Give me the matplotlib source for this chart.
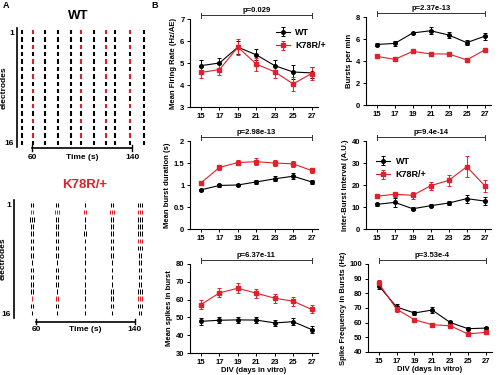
import matplotlib
matplotlib.use("Agg")
import matplotlib.pyplot as plt
import matplotlib.transforms as mtransforms

plt.rcParams["font.family"] = ["Liberation Sans Narrow", "Liberation Sans", "DejaVu Sans"]
plt.rcParams["font.weight"] = "bold"
plt.rcParams["axes.labelweight"] = "bold"

RED = "#e3202a"
W, H = 500, 375

# ---- panel A: raster data (burst times in s, per-electrode spike counts) ----
WT_BURSTS = [51.5, 60.8, 70.2, 80.8, 90.7, 99.0, 109.6, 119.0, 126.0, 138.0, 149.0]
WT_REDDISH = [False, True, False, False, False, True, False, True, False, True, False]

K_BURSTS = [56.5, 76.7, 99.6, 121.6, 144.0]
K_SPIKES = ["2232222212222121",
            "2322222212221221",
            "1211211111111111",
            "2322222211112221",
            "3333333222223332"]
K_RED_ROWS = [[2, 14], [2, 14], [2], [2], [2, 6, 14]]

# ---- panel B: DIV series (mean, sem) ----
DIV = [15, 17, 19, 21, 23, 25, 27]

mfr_wt = [4.88, 5.00, 5.72, 5.37, 4.88, 4.59, 4.55]
mfr_wt_err = [0.25, 0.25, 0.30, 0.25, 0.25, 0.30, 0.25]
mfr_ko = [4.57, 4.70, 5.72, 4.95, 4.60, 4.05, 4.52]
mfr_ko_err = [0.25, 0.25, 0.35, 0.30, 0.30, 0.30, 0.30]

bpm_wt = [5.50, 5.60, 6.55, 6.75, 6.36, 5.67, 6.25]
bpm_wt_err = [0.15, 0.20, 0.12, 0.30, 0.25, 0.25, 0.30]
bpm_ko = [4.42, 4.15, 4.88, 4.64, 4.64, 4.10, 5.00]
bpm_ko_err = [0.10, 0.15, 0.15, 0.20, 0.20, 0.20, 0.20]

dur_wt = [0.89, 0.99, 1.00, 1.07, 1.14, 1.20, 1.07]
dur_wt_err = [0.02, 0.04, 0.03, 0.04, 0.06, 0.07, 0.05]
dur_ko = [1.05, 1.40, 1.51, 1.53, 1.50, 1.48, 1.33]
dur_ko_err = [0.05, 0.06, 0.06, 0.08, 0.07, 0.07, 0.05]

ibi_wt = [11.2, 12.1, 9.2, 10.6, 11.8, 13.8, 12.7]
ibi_wt_err = [0.8, 2.0, 0.6, 0.8, 1.0, 1.8, 2.0]
ibi_ko = [14.9, 15.8, 15.3, 19.7, 22.1, 28.3, 19.7]
ibi_ko_err = [1.0, 1.2, 1.5, 1.8, 2.5, 4.8, 2.8]

spb_wt = [47.8, 48.4, 48.6, 48.5, 46.9, 47.6, 43.2]
spb_wt_err = [1.8, 1.8, 1.8, 1.8, 1.8, 2.0, 2.0]
spb_ko = [57.2, 63.8, 66.4, 63.6, 60.8, 59.1, 54.5]
spb_ko_err = [2.5, 2.5, 2.8, 2.5, 2.5, 2.5, 2.3]

sfb_wt = [85.2, 70.7, 66.6, 68.6, 60.2, 55.9, 56.3]
sfb_wt_err = [2.5, 2.0, 1.5, 2.0, 1.0, 1.0, 1.0]
sfb_ko = [86.9, 69.3, 62.0, 58.6, 57.9, 52.3, 53.4]
sfb_ko_err = [2.5, 2.0, 1.5, 1.5, 1.5, 1.2, 1.2]

fig = plt.figure(figsize=(W / 100, H / 100), dpi=100)


def px_axes(x0, y0, x1, y1):
    return fig.add_axes([x0 / W, 1 - y1 / H, (x1 - x0) / W, (y1 - y0) / H])


def fig_text(x, y, s, **kw):
    fig.text(x / W, 1 - y / H, s, **kw)


def raster_frame(ax, xlim, ylim, bar_y, lab_y, ylab_x):
    ax.set_xlim(*xlim)
    ax.set_ylim(*ylim)
    for s in ["top", "right", "bottom"]:
        ax.spines[s].set_visible(False)
    ax.spines["left"].set_linewidth(1.2)
    ax.set_xticks([])
    ax.set_yticks([1, 16])
    ax.tick_params(axis="y", length=0, labelsize=6, pad=2)
    ax.set_ylabel("electrodes", fontsize=6)
    ax.yaxis.set_label_coords(ylab_x, 0.5)
    tr = mtransforms.blended_transform_factory(ax.transData, ax.transAxes)
    ax.plot([60, 140], [bar_y, bar_y], color="black", lw=1.2, transform=tr, clip_on=False)
    for t in (60, 140):
        ax.plot([t, t], [bar_y - 0.025, bar_y + 0.025], color="black", lw=1.0,
                transform=tr, clip_on=False)
        ax.text(t, lab_y, str(t), transform=tr, ha="center", va="center", fontsize=6)
    ax.text(100, lab_y, "Time (s)", transform=tr, ha="center", va="center", fontsize=6)


# WT raster
axA1 = px_axes(17, 28, 152, 147)
for t, reddish in zip(WT_BURSTS, WT_REDDISH):
    for e in range(1, 17):
        c = RED if (reddish and e % 2 == 1) else "black"
        axA1.vlines(t, e - 0.3, e + 0.3, color=c, lw=1.5)
raster_frame(axA1, (47.8, 155.8), (16.55, 0.45), -0.01, -0.09, -0.07)

# K78R/+ raster
axA2 = px_axes(14, 200, 150, 318)
for t, counts, reds in zip(K_BURSTS, K_SPIKES, K_RED_ROWS):
    for e in range(1, 17):
        n = int(counts[e - 1])
        c = RED if e in reds else "black"
        for k in range(n):
            axA2.vlines(t + (k - (n - 1) / 2) * 1.7, e - 0.32, e + 0.32, color=c, lw=0.75)
raster_frame(axA2, (42.2, 152.1), (16.69, 0.31), -0.03, -0.095, -0.055)

fig_text(78, 16, "WT", fontsize=9.5, ha="center", va="center")
fig_text(85, 185, "K78R/+", fontsize=9.5, ha="center", va="center", color=RED)
fig_text(3, 6, "A", fontsize=6.5, va="center")
fig_text(151, 6, "B", fontsize=6.5, va="center")


def panel(rect, wt, wt_err, ko, ko_err, ylim, yticks, ylabel, ptext,
          xlabel=False, legend=None):
    ax = px_axes(*rect)
    ax.errorbar(DIV, wt, yerr=wt_err, color="black", marker="o", ms=2.6, lw=0.8,
                elinewidth=0.7, capsize=1.5, capthick=0.7, label="WT", zorder=3)
    ax.errorbar(DIV, ko, yerr=ko_err, color=RED, marker="s", ms=3.0, lw=0.8,
                elinewidth=0.7, capsize=1.5, capthick=0.7, label="K78R/+", zorder=3)
    ax.set_xlim(13.8, 27.7)
    ax.set_ylim(*ylim)
    ax.set_xticks(DIV)
    ax.set_yticks(yticks)
    ax.set_yticklabels([f"{v:g}" for v in yticks])
    for s in ["top", "right"]:
        ax.spines[s].set_visible(False)
    for s in ["left", "bottom"]:
        ax.spines[s].set_linewidth(0.8)
    ax.tick_params(direction="out", length=2.5, width=0.7, labelsize=5.5, pad=1.5)
    ax.set_ylabel(ylabel, fontsize=5.5, labelpad=2)
    if xlabel:
        ax.set_xlabel("DIV (days in vitro)", fontsize=5.5, labelpad=1)
    tr = mtransforms.blended_transform_factory(ax.transData, ax.transAxes)
    ax.plot([15, 27], [1.04, 1.04], color="#333333", lw=0.7, transform=tr, clip_on=False)
    for x in (15, 27):
        ax.plot([x, x], [1.015, 1.065], color="#333333", lw=0.7, transform=tr, clip_on=False)
    ax.text(21, 1.095, ptext, transform=tr, ha="center", va="center", fontsize=5.5)
    if legend is not None:
        ax.legend(loc="upper left", bbox_to_anchor=legend, frameon=False, fontsize=6.5,
                  handlelength=1.6, handletextpad=0.6, borderaxespad=0, labelspacing=0.5)
    return ax


panel((190, 19, 318, 107), mfr_wt, mfr_wt_err, mfr_ko, mfr_ko_err, (3, 7),
      [3, 4, 5, 6, 7], "Mean Firing Rate (Hz/AE)", "p=0.029", legend=(0.64, 0.94))
panel((366, 17, 491, 105), bpm_wt, bpm_wt_err, bpm_ko, bpm_ko_err, (0, 8),
      [0, 2, 4, 6, 8], "Bursts per min", "p=2.37e-13")
panel((190, 141, 318, 229), dur_wt, dur_wt_err, dur_ko, dur_ko_err, (0, 2),
      [0, 0.5, 1, 1.5, 2], "Mean burst duration (s)", "p=2.98e-13")
panel((366, 141, 491, 229), ibi_wt, ibi_wt_err, ibi_ko, ibi_ko_err, (0, 40),
      [0, 10, 20, 30, 40], "Inter-Burst Interval (A.U.)", "p=9.4e-14", legend=(0.05, 0.86))
panel((190, 264, 318, 353), spb_wt, spb_wt_err, spb_ko, spb_ko_err, (30, 80),
      [30, 40, 50, 60, 70, 80], "Mean spikes in burst", "p=6.37e-11", xlabel=True)
panel((368, 264, 492, 352), sfb_wt, sfb_wt_err, sfb_ko, sfb_ko_err, (40, 100),
      [40, 50, 60, 70, 80, 90, 100], "Spike Frequency in Bursts (Hz)", "p=3.53e-4",
      xlabel=True)

fig.savefig("out.png", dpi=100)
